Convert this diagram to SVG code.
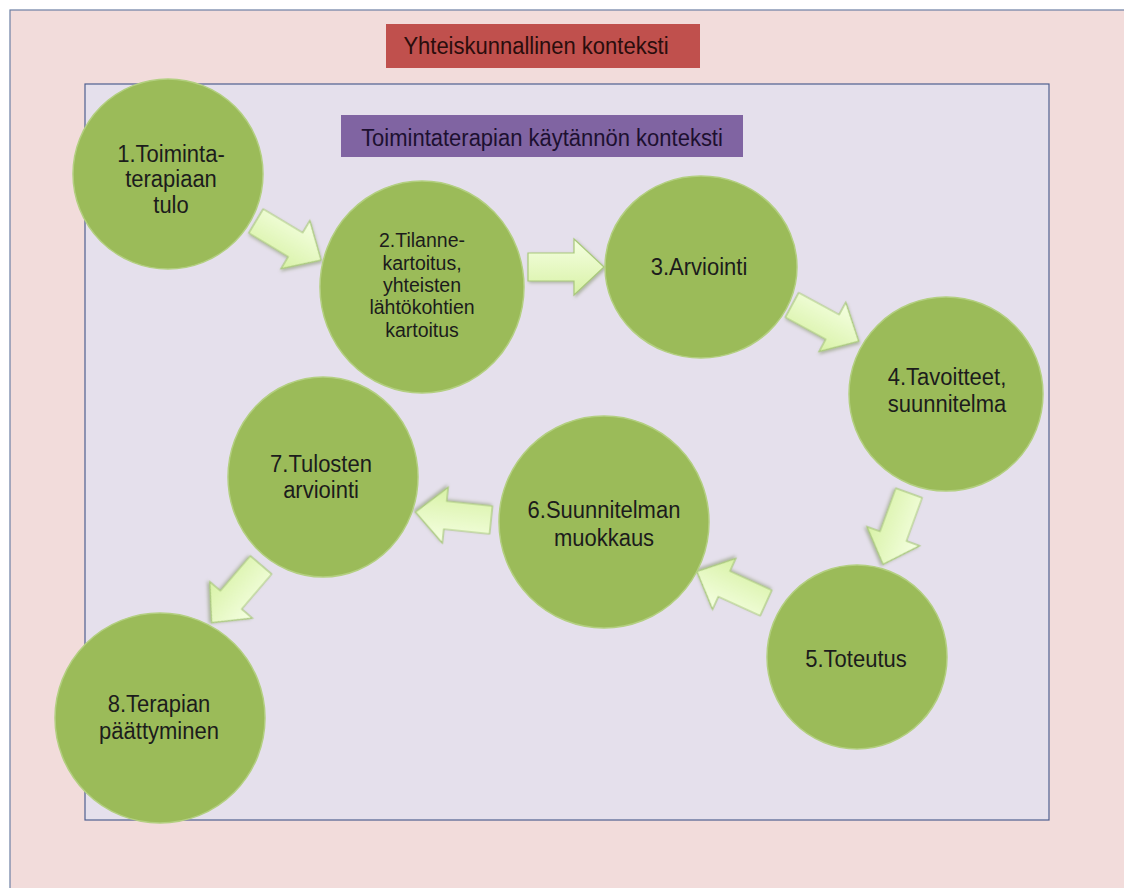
<svg xmlns="http://www.w3.org/2000/svg" width="1124" height="888" viewBox="0 0 1124 888">
  <defs>
    <linearGradient id="arrowGrad" x1="0" y1="0" x2="0" y2="1">
      <stop offset="0" stop-color="#f5ffe2"/>
      <stop offset="1" stop-color="#d8f2a6"/>
    </linearGradient>
    <filter id="shadow" x="-20%" y="-20%" width="140%" height="140%">
      <feDropShadow dx="1.5" dy="1.5" stdDeviation="1.5" flood-color="#6b7f4a" flood-opacity="0.45"/>
    </filter>
    <path id="arrow" d="M0,-14 L46,-14 L46,-28 L76,0 L46,28 L46,14 L0,14 Z"/>
  </defs>
  <style>
    .circle { fill: #9bbb59; stroke: #b3cf80; stroke-width: 1.5; }
    .label { font-family: "Liberation Sans", Arial, sans-serif; font-size: 22px; fill: #1c1c1c; text-anchor: middle; }
    .small { font-size: 19.5px; }
    .arr { fill: url(#arrowGrad); stroke: #a9c97c; stroke-width: 1.2; filter: url(#shadow); }
  </style>

  <rect x="0" y="0" width="1124" height="888" fill="#ffffff"/>

  <g id="outer-context">
    <rect x="10" y="10" width="1200" height="1000" fill="#f2dcdb" stroke="#6d7fa3" stroke-width="1.2"/>
    <rect x="386" y="24" width="314" height="44" fill="#c0504d"/>
    <text class="label" transform="translate(536,54) scale(1,1.12)" style="fill:#2a0d0c">Yhteiskunnallinen konteksti</text>
  </g>

  <g id="inner-context">
    <rect x="85" y="84" width="964" height="736" fill="#e5e0ec" stroke="#4f5f8f" stroke-width="1.2"/>
    <rect x="341" y="115" width="402" height="42" fill="#8064a2"/>
    <text class="label" transform="translate(542,146) scale(1,1.1)" style="fill:#1d1030">Toimintaterapian käytännön konteksti</text>
  </g>

  <g id="connectors">
    <use href="#arrow" class="arr" transform="translate(256,221) rotate(31)"/>
    <use href="#arrow" class="arr" transform="translate(528,267)"/>
    <use href="#arrow" class="arr" transform="translate(792,305) rotate(28.5)"/>
    <use href="#arrow" class="arr" transform="translate(909,493) rotate(110)"/>
    <use href="#arrow" class="arr" transform="translate(766,603) rotate(204.5)"/>
    <use href="#arrow" class="arr" transform="translate(491,520) rotate(186)"/>
    <use href="#arrow" class="arr" transform="translate(261,565) rotate(130.6)"/>
  </g>

  <g id="node1">
    <ellipse class="circle" cx="168" cy="174" rx="95" ry="95"/>
    <text class="label" transform="translate(171,162) scale(1,1.1)">1.Toiminta-</text>
    <text class="label" transform="translate(171,187) scale(1,1.1)">terapiaan</text>
    <text class="label" transform="translate(171,213) scale(1,1.1)">tulo</text>
  </g>

  <g id="node2">
    <ellipse class="circle" cx="422" cy="287" rx="102" ry="106"/>
    <text class="label small" transform="translate(422,247)">2.Tilanne-</text>
    <text class="label small" transform="translate(422,269.5)">kartoitus,</text>
    <text class="label small" transform="translate(422,291.5)">yhteisten</text>
    <text class="label small" transform="translate(422,314)">lähtökohtien</text>
    <text class="label small" transform="translate(422,336.5)">kartoitus</text>
  </g>

  <g id="node3">
    <ellipse class="circle" cx="701" cy="267" rx="96" ry="91"/>
    <text class="label" transform="translate(699,275) scale(1,1.1)">3.Arviointi</text>
  </g>

  <g id="node4">
    <ellipse class="circle" cx="946" cy="394" rx="97" ry="97"/>
    <text class="label" transform="translate(947,385) scale(1,1.1)">4.Tavoitteet,</text>
    <text class="label" transform="translate(947,412) scale(1,1.1)">suunnitelma</text>
  </g>

  <g id="node5">
    <ellipse class="circle" cx="857" cy="657" rx="90" ry="92"/>
    <text class="label" transform="translate(856,667) scale(1,1.1)">5.Toteutus</text>
  </g>

  <g id="node6">
    <ellipse class="circle" cx="604" cy="522" rx="105" ry="106"/>
    <text class="label" transform="translate(604,518) scale(1,1.1)">6.Suunnitelman</text>
    <text class="label" transform="translate(604,546) scale(1,1.1)">muokkaus</text>
  </g>

  <g id="node7">
    <ellipse class="circle" cx="323" cy="477" rx="95" ry="100"/>
    <text class="label" transform="translate(321,472) scale(1,1.1)">7.Tulosten</text>
    <text class="label" transform="translate(321,498) scale(1,1.1)">arviointi</text>
  </g>

  <g id="node8">
    <ellipse class="circle" cx="160" cy="718" rx="105" ry="105"/>
    <text class="label" transform="translate(159,712) scale(1,1.1)">8.Terapian</text>
    <text class="label" transform="translate(159,739) scale(1,1.1)">päättyminen</text>
  </g>
</svg>
